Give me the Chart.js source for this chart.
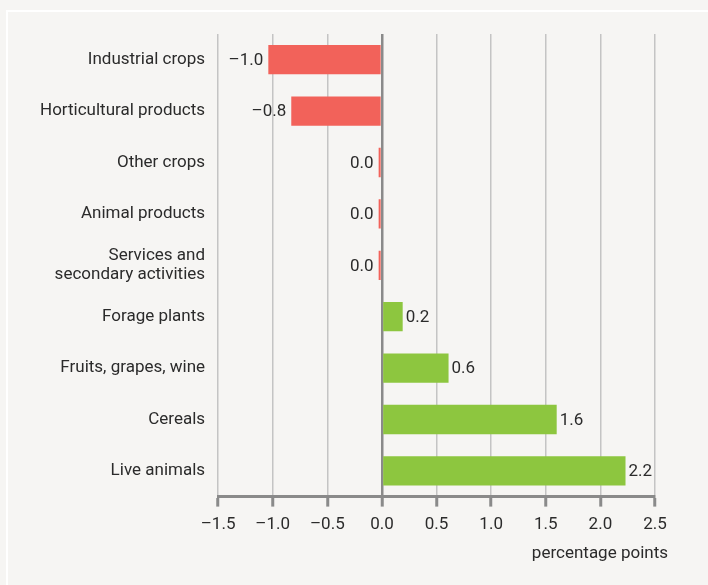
<!DOCTYPE html>
<html>
<head>
<meta charset="utf-8">
<script src="https://cdn.jsdelivr.net/npm/chart.js@4/dist/chart.umd.min.js"></script>
<style>
  html, body { margin: 0; padding: 0; background: #f6f5f3; overflow: hidden; }
  #chart { display: block; }
</style>
</head>
<body>
<canvas id="chart" width="708" height="585"></canvas>
<script>
const FONT = "Roboto, 'Liberation Sans', sans-serif";
const FS = 17;
const TEXT = "#2b2b2b";

// data
const categories = [
  "Industrial crops",
  "Horticultural products",
  "Other crops",
  "Animal products",
  ["Services and", "secondary activities"],
  "Forage plants",
  "Fruits, grapes, wine",
  "Cereals",
  "Live animals"
];
const changes = [-1.04, -0.83, -0.03, -0.03, -0.03, 0.19, 0.61, 1.6, 2.23];
const xTicks = [-1.5, -1.0, -0.5, 0.0, 0.5, 1.0, 1.5, 2.0, 2.5];
const axisTitle = "percentage points";

const RED = "#f2625a";
const GREEN = "#8dc63f";

// one decimal, en dash for minus
function fmt(v) {
  let s = v.toFixed(1);
  if (s === "-0.0") s = "0.0";
  return s.replace("-", "\u2013");
}

// background with the white frame lines top and left
const framePlugin = {
  id: "frame",
  beforeDraw(chart) {
    const ctx = chart.ctx;
    ctx.save();
    ctx.fillStyle = "#f6f5f3";
    ctx.fillRect(0, 0, chart.width, chart.height);
    ctx.fillStyle = "#ffffff";
    ctx.fillRect(6, 10, chart.width, 2);
    ctx.fillRect(6, 10, 2, chart.height);
    ctx.restore();
  }
};

// value labels next to bars + axis title
const labelPlugin = {
  id: "barLabels",
  afterDatasetsDraw(chart) {
    const ctx = chart.ctx;
    const meta = chart.getDatasetMeta(0);
    ctx.save();
    ctx.font = FS + "px " + FONT;
    ctx.fillStyle = TEXT;
    ctx.textBaseline = "middle";
    meta.data.forEach((bar, i) => {
      const v = changes[i];
      if (v >= 0) {
        ctx.textAlign = "left";
        ctx.fillText(fmt(v), Math.max(bar.x, bar.base) + 3, bar.y + 1);
      } else {
        ctx.textAlign = "right";
        ctx.fillText(fmt(v), Math.min(bar.x, bar.base) - 5, bar.y + 1);
      }
    });
    ctx.textAlign = "right";
    ctx.fillText(axisTitle, chart.chartArea.right + 13, 554);
    ctx.restore();
  }
};

new Chart(document.getElementById("chart"), {
  type: "bar",
  data: {
    labels: categories,
    datasets: [{
      data: changes,
      backgroundColor: changes.map(v => v < 0 ? RED : GREEN),
      borderWidth: 0,
      barPercentage: 0.57,
      categoryPercentage: 1.0
    }]
  },
  options: {
    indexAxis: "y",
    responsive: false,
    animation: false,
    layout: { padding: { top: 34, right: 53, bottom: 42, left: 35 } },
    plugins: {
      legend: { display: false },
      tooltip: { enabled: false }
    },
    scales: {
      x: {
        min: xTicks[0],
        max: xTicks[xTicks.length - 1],
        afterBuildTicks: axis => { axis.ticks = xTicks.map(v => ({ value: v })); },
        grid: {
          color: c => c.tick && c.tick.value === 0 ? "#8a8a8a" : "#c4c4c4",
          lineWidth: c => c.tick && c.tick.value === 0 ? 2.5 : 1.5,
          tickColor: "#8a8a8a",
          tickWidth: 3,
          tickLength: 10
        },
        border: { display: true, color: "#8a8a8a", width: 3 },
        ticks: {
          padding: 8,
          color: TEXT,
          font: { family: FONT, size: FS },
          maxRotation: 0,
          callback: v => fmt(v)
        }
      },
      y: {
        grid: { display: false },
        border: { display: false },
        ticks: {
          padding: 5,
          color: TEXT,
          font: { family: FONT, size: FS, lineHeight: 1.1 }
        }
      }
    }
  },
  plugins: [framePlugin, labelPlugin]
});
</script>
</body>
</html>
